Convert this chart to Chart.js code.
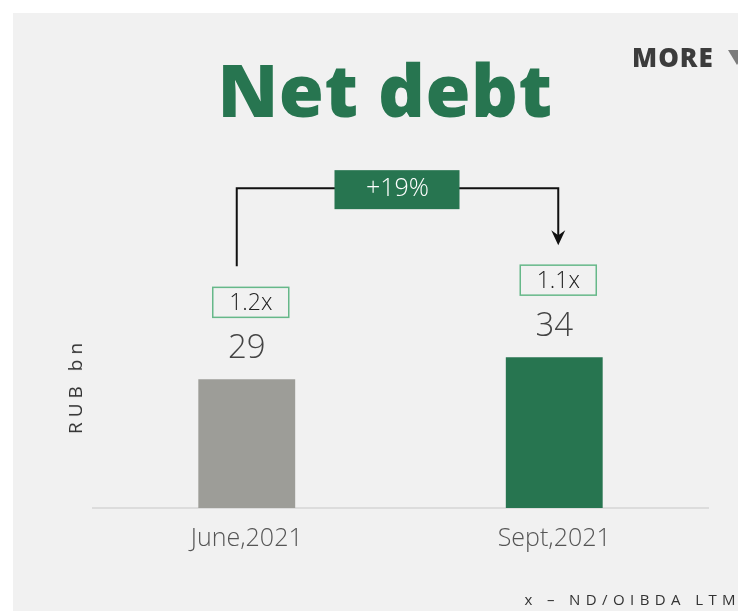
<!DOCTYPE html>
<html>
<head>
<meta charset="utf-8">
<script src="https://cdn.jsdelivr.net/npm/chart.js@4/dist/chart.umd.min.js"></script>
<style>
  html, body { margin:0; padding:0; background:#ffffff; }
  body { width:738px; height:611px; position:relative; overflow:hidden; font-family:"Open Sans", sans-serif; }
  #panel { position:absolute; left:13px; top:13px; width:725px; height:598px; background:#f1f1f1; }
  #wrap { position:absolute; left:0; top:0; width:738px; height:611px; }
  #title { position:absolute; left:0; width:770px; top:44px; text-align:center; font-family:"Open Sans", sans-serif; font-weight:800; font-size:73px; color:#277550; line-height:90px; letter-spacing:0.5px; }
  #more { position:absolute; left:632px; top:42px; font-family:"Open Sans", sans-serif; font-weight:800; font-size:26px; color:#3c3c3c; letter-spacing:1px; line-height:30px; }
  #tri { position:absolute; left:728px; top:50px; width:0; height:0; border-left:9px solid transparent; border-right:9px solid transparent; border-top:15px solid #7b7b7b; }
  #ytitle { position:absolute; left:75px; top:386px; transform:translate(-50%,-50%) rotate(-90deg); font-family:"Open Sans", sans-serif; font-weight:400; font-size:19px; letter-spacing:5px; color:#333; white-space:nowrap; }
  #foot { position:absolute; right:-3px; top:590px; font-family:"Open Sans", sans-serif; font-size:15px; letter-spacing:5.4px; color:#333; white-space:nowrap; line-height:18px; }
</style>
</head>
<body>
<div id="panel"></div>
<div id="wrap"><canvas id="c" width="738" height="611"></canvas></div>
<div id="title">Net debt</div>
<div id="more">MORE</div>
<div id="tri"></div>
<div id="ytitle">RUB bn</div>
<div id="foot">x – ND/OIBDA LTM</div>
<script>
const categories = ["June,2021", "Sept,2021"];
const netDebt = [29, 34];
const ratioLabels = ["1.2x", "1.1x"];
const changeLabel = "+19%";
const barColors = ["#9d9d98", "#277550"];

const annotate = {
  id: 'annotate',
  afterDatasetsDraw(chart) {
    const ctx = chart.ctx;
    const bars = chart.getDatasetMeta(0).data;
    ctx.save();
    const boxTops = [];
    bars.forEach((b, i) => {
      // value label
      ctx.font = '300 33px "Open Sans"';
      ctx.fillStyle = '#444444';
      ctx.textAlign = 'center';
      ctx.textBaseline = 'middle';
      ctx.fillText(String(netDebt[i]), b.x, b.y - 31);
      // ratio box
      const bw = 76, bh = 30;
      const cy = b.y - 77;
      const top = cy - bh / 2;
      boxTops.push(top);
      ctx.strokeStyle = '#66b889';
      ctx.lineWidth = 1.5;
      ctx.strokeRect(b.x - bw / 2 + 4, top, bw, bh);
      ctx.font = '300 23px "Open Sans"';
      ctx.fillStyle = '#222222';
      ctx.fillText(ratioLabels[i], b.x + 4, cy + 1);
    });
    // arrow
    const x0 = bars[0].x - 10, x1 = bars[1].x + 4;
    const y0 = boxTops[0] - 21, y1 = boxTops[1] - 21;
    const yh = Math.min(boxTops[0], boxTops[1]) - 77;
    ctx.strokeStyle = '#111111';
    ctx.lineWidth = 2;
    ctx.beginPath();
    ctx.moveTo(x0, y0);
    ctx.lineTo(x0, yh);
    ctx.lineTo(x1, yh);
    ctx.lineTo(x1, y1 - 4);
    ctx.stroke();
    ctx.fillStyle = '#111111';
    ctx.beginPath();
    ctx.moveTo(x1, y1 + 1);
    ctx.lineTo(x1 - 7, y1 - 14);
    ctx.lineTo(x1, y1 - 9);
    ctx.lineTo(x1 + 7, y1 - 14);
    ctx.closePath();
    ctx.fill();
    // change box
    const cx = (x0 + x1) / 2;
    ctx.fillStyle = '#277550';
    ctx.fillRect(cx - 63, yh - 18, 125, 39);
    ctx.fillStyle = '#ffffff';
    ctx.font = '300 25px "Open Sans"';
    ctx.textAlign = 'center';
    ctx.textBaseline = 'middle';
    ctx.fillText(changeLabel, cx, yh + 1);
    ctx.restore();
  }
};

new Chart(document.getElementById('c'), {
  type: 'bar',
  data: {
    labels: categories,
    datasets: [{
      data: netDebt,
      backgroundColor: barColors,
      borderWidth: 0,
      barPercentage: 0.63,
      categoryPercentage: 0.5
    }]
  },
  options: {
    responsive: false,
    animation: false,
    devicePixelRatio: 1,
    layout: { padding: { left: 60, right: 30, top: 264, bottom: 0 } },
    plugins: { legend: { display: false }, tooltip: { enabled: false }, title: { display: false } },
    scales: {
      x: {
        grid: { display: false, drawTicks: false },
        border: { display: true, color: '#dcdcdc', width: 2 },
        ticks: { color: '#555555', padding: 16, font: { family: '"Open Sans"', size: 25, weight: 300 } },
        afterFit(s) { s.height = 103; }
      },
      y: {
        min: 0, max: 55,
        display: true,
        grid: { display: false, drawTicks: false },
        border: { display: false },
        ticks: { display: false },
        afterFit(s) { s.width = 33; }
      }
    }
  },
  plugins: [annotate]
});
</script>
</body>
</html>
